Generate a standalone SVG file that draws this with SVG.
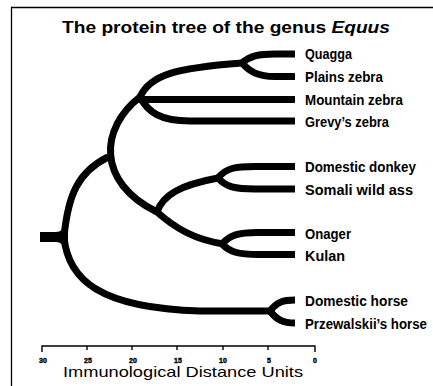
<svg xmlns="http://www.w3.org/2000/svg" width="433" height="386" viewBox="0 0 433 386">
<style>
.br{fill:none;stroke:#000;stroke-width:7;stroke-linecap:butt;stroke-linejoin:round}
.lbl{font-family:"Liberation Sans",Arial,sans-serif;font-size:14px;font-weight:bold;fill:#000}
.tk{font-family:"Liberation Sans",Arial,sans-serif;font-size:7px;font-weight:bold;fill:#000;stroke:#000;stroke-width:0.4;text-anchor:middle}
.ax{fill:none;stroke:#000;stroke-width:1.4}
.j{fill:#000}
</style>
<rect width="433" height="386" fill="#fff"/>
<path d="M11.5,386 V7.5 H433" fill="none" stroke="#000" stroke-width="1.3"/>
<text x="62" y="33" font-family="Liberation Sans,Arial,sans-serif" font-size="16.5" font-weight="bold" textLength="328" lengthAdjust="spacingAndGlyphs">The protein tree of the genus <tspan font-style="italic">Equus</tspan></text>

<g id="connectors">
  <rect x="40" y="232" width="24" height="10" fill="#000"/>
  <path class="j" d="M56,232 Q63,232 65,223 L68,223 L68,251 L65,251 Q63,242 56,242 Z"/>
  <path class="br" d="M64,237 C68,195 78,172 108,157"/>
  <path class="br" d="M64,237 C68,280 100,308 200,311 H272"/>
  <path class="br" d="M140,97 C100,128 96,182 157,212 C175,228 195,240 224,244"/>
  <path class="br" d="M157,212 C163,195 180,185 218,178"/>
  <path class="br" d="M140,97 C150,75 175,68 242,63"/>
  <path class="br" d="M140,97 C148,112 160,121 190,121 H295"/>
  <path class="br" d="M138,99.5 H295"/>
  <path class="br" d="M242,63 C250,56 258,54 275,54 H295"/>
  <path class="br" d="M242,63 C250,72 258,76.5 275,76.5 H295"/>
  <path class="br" d="M218,178 C226,168 235,166.5 255,166.5 H295"/>
  <path class="br" d="M218,178 C226,187 235,189 255,189 H295"/>
  <path class="br" d="M222,244 C230,235 238,232.5 258,232.5 H295"/>
  <path class="br" d="M222,244 C230,252 238,254.5 258,254.5 H295"/>
  <path class="br" d="M270,311 C277,302 283,300 295,300"/>
  <path class="br" d="M270,311 C277,320 283,323 295,323"/>
</g>

<g id="quagga"><text class="lbl" x="305" y="59" textLength="47" lengthAdjust="spacingAndGlyphs">Quagga</text></g>
<g id="plains-zebra"><text class="lbl" x="305" y="81.5" textLength="78" lengthAdjust="spacingAndGlyphs">Plains zebra</text></g>
<g id="mountain-zebra"><text class="lbl" x="305" y="104.5" textLength="98" lengthAdjust="spacingAndGlyphs">Mountain zebra</text></g>
<g id="grevys-zebra"><text class="lbl" x="305" y="126.5" textLength="84" lengthAdjust="spacingAndGlyphs">Grevy’s zebra</text></g>
<g id="domestic-donkey"><text class="lbl" x="305" y="172" textLength="111" lengthAdjust="spacingAndGlyphs">Domestic donkey</text></g>
<g id="somali-wild-ass"><text class="lbl" x="305" y="194.5" textLength="108" lengthAdjust="spacingAndGlyphs">Somali wild ass</text></g>
<g id="onager"><text class="lbl" x="305" y="238.5" textLength="46" lengthAdjust="spacingAndGlyphs">Onager</text></g>
<g id="kulan"><text class="lbl" x="305" y="260.5" textLength="40" lengthAdjust="spacingAndGlyphs">Kulan</text></g>
<g id="domestic-horse"><text class="lbl" x="305" y="305.5" textLength="103" lengthAdjust="spacingAndGlyphs">Domestic horse</text></g>
<g id="przewalskiis-horse"><text class="lbl" x="305" y="328.5" textLength="122" lengthAdjust="spacingAndGlyphs">Przewalskii’s horse</text></g>

<g id="axis">
  <path class="ax" d="M42,352 V346 H315 V352 M87,346 V350 M132,346 V350 M177,346 V350 M223,346 V350 M268,346 V350"/>
  <text class="tk" x="43" y="363">30</text>
  <text class="tk" x="88" y="363">25</text>
  <text class="tk" x="133" y="363">20</text>
  <text class="tk" x="178" y="363">15</text>
  <text class="tk" x="223" y="363">10</text>
  <text class="tk" x="269" y="363">5</text>
  <text class="tk" x="315" y="363">0</text>
  <text x="63" y="377" font-family="Liberation Sans,Arial,sans-serif" font-size="15" textLength="240" lengthAdjust="spacingAndGlyphs">Immunological Distance Units</text>
</g>
</svg>
